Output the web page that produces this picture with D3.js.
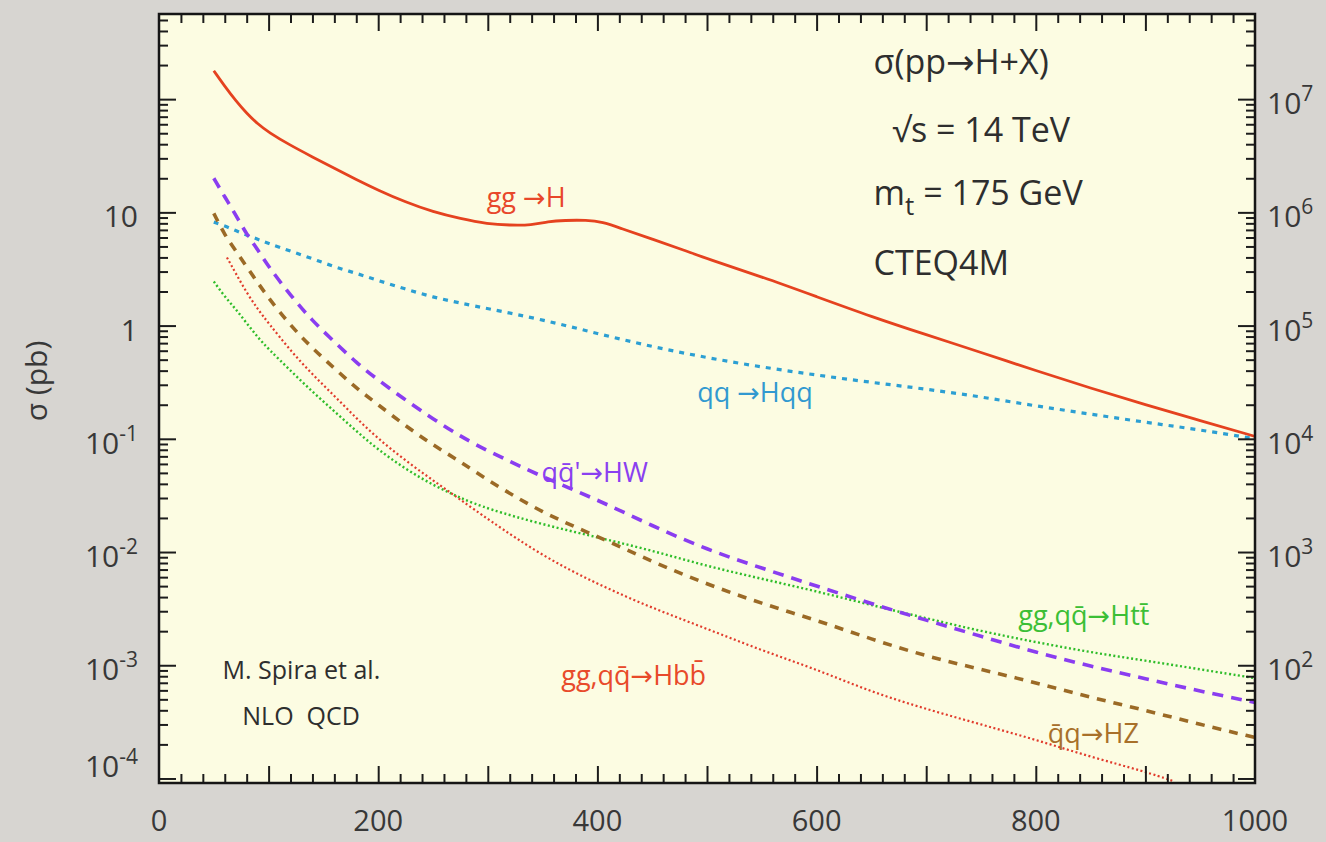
<!DOCTYPE html>
<html>
<head>
<meta charset="utf-8">
<script src="https://cdn.jsdelivr.net/npm/d3@7"></script>
<style>
  body { margin: 0; background: #d7d5d1; }
  svg { display: block; font-family: "Open Sans", "DejaVu Sans", sans-serif; }
</style>
</head>
<body>
<div id="chart"></div>
<script>
// Higgs production at the LHC, sqrt(s) = 14 TeV (M. Spira et al., NLO QCD)
// values: Higgs mass in GeV -> sigma in pb

const ggH_mass = [50, 60, 70, 80, 90, 100, 120, 140, 160, 180, 200, 225, 250, 275, 300, 320, 340, 355, 370, 390, 405, 420, 450, 480, 500, 550, 600, 650, 700, 750, 800, 850, 900, 950, 1000]
const ggH_xsec = [178, 130, 97, 75, 60.5, 51, 39, 30.9, 24.5, 19.5, 15.7, 12.3, 10.1, 8.8, 7.9, 7.7, 7.7, 8.3, 8.5, 8.55, 8.2, 7.3, 5.8, 4.6, 3.9, 2.7, 1.8, 1.2, 0.83, 0.58, 0.40, 0.28, 0.20, 0.145, 0.105]

const qqHqq_mass = [50, 60, 70, 80, 90, 100, 120, 140, 160, 180, 200, 225, 250, 275, 300, 350, 400, 450, 500, 550, 600, 650, 700, 750, 800, 850, 900, 950, 1000]
const qqHqq_xsec = [8.2, 7.6, 6.9, 6.3, 5.8, 5.3, 4.55, 3.9, 3.3, 2.9, 2.5, 2.1, 1.78, 1.58, 1.41, 1.13, 0.85, 0.65, 0.52, 0.43, 0.365, 0.315, 0.275, 0.235, 0.195, 0.165, 0.14, 0.12, 0.10]

const HW_mass = [50, 60, 70, 80, 90, 100, 120, 140, 160, 180, 200, 225, 250, 275, 300, 350, 400, 450, 500, 550, 600, 650, 700, 750, 800, 850, 900, 950, 1000]
const HW_xsec = [20, 13.7, 9.5, 6.4, 4.7, 3.3, 1.85, 1.1, 0.72, 0.47, 0.33, 0.22, 0.15, 0.105, 0.078, 0.046, 0.029, 0.017, 0.0105, 0.0072, 0.0050, 0.0035, 0.0025, 0.0018, 0.0013, 0.00098, 0.00076, 0.00059, 0.00047]

const HZ_mass = [50, 60, 70, 80, 90, 100, 120, 140, 160, 180, 200, 225, 250, 275, 300, 350, 400, 450, 500, 550, 600, 650, 700, 750, 800, 850, 900, 950, 1000]
const HZ_xsec = [9.8, 6.3, 4.6, 3.3, 2.4, 1.75, 1.0, 0.63, 0.42, 0.28, 0.2, 0.13, 0.088, 0.063, 0.043, 0.022, 0.0138, 0.0082, 0.0052, 0.0035, 0.0025, 0.0017, 0.0012, 0.00092, 0.00070, 0.00052, 0.00040, 0.00030, 0.00023]

const Htt_mass = [50, 60, 70, 80, 90, 100, 120, 140, 160, 180, 200, 225, 250, 275, 300, 350, 400, 450, 500, 550, 600, 650, 700, 750, 800, 850, 900, 950, 1000]
const Htt_xsec = [2.45, 1.8, 1.4, 1.05, 0.79, 0.62, 0.40, 0.26, 0.175, 0.117, 0.08, 0.054, 0.039, 0.030, 0.024, 0.0175, 0.0135, 0.0103, 0.0075, 0.0058, 0.0045, 0.0034, 0.0026, 0.0020, 0.0016, 0.0013, 0.0011, 0.00092, 0.00077]

const Hbb_mass = [62, 70, 80, 90, 100, 120, 140, 160, 180, 200, 225, 250, 275, 300, 350, 400, 450, 500, 550, 600, 650, 700, 750, 800, 850, 900, 925]
const Hbb_xsec = [4.0, 2.9, 1.95, 1.4, 1.05, 0.6, 0.37, 0.24, 0.152, 0.1, 0.064, 0.043, 0.029, 0.0195, 0.0092, 0.0052, 0.0032, 0.0021, 0.00135, 0.00092, 0.00058, 0.00041, 0.00030, 0.00022, 0.000155, 0.000115, 0.000095]

const xTicks = [0, 200, 400, 600, 800, 1000]
const leftDecades = [1, 0, -1, -2, -3, -4]   // labels 10, 1, 10^-1 ...
const rightDecades = [7, 6, 5, 4, 3, 2]      // events per year, sigma x 1e5 pb^-1

let W = 1326, H = 842
let m = {left: 159, top: 14, right: 71, bottom: 59}
let w = W - m.left - m.right
let h = H - m.top - m.bottom

let x = d3.scaleLinear().domain([0, 1000]).range([0, w])
let y = d3.scaleLog().domain([Math.pow(10, -4.04), Math.pow(10, 2.752)]).range([h, 0])

let svg = d3.select('#chart').append('svg')
    .attr('width', W)
    .attr('height', H)
svg.append('rect')
    .attr('width', W).attr('height', H)
    .attr('fill', '#d7d5d1')

let g = svg.append('g').attr('transform', `translate(${m.left},${m.top})`)
g.append('rect')
    .attr('width', w).attr('height', h)
    .attr('fill', '#fcfce2')

g.append('clipPath').attr('id', 'clip')
  .append('rect').attr('width', w).attr('height', h)

// curves
let line = d3.line()
    .x(d => x(d[0]))
    .y(d => y(d[1]))
    .curve(d3.curveBasis)

let curves = [
    {mass: ggH_mass, xsec: ggH_xsec, color: '#e5421f', width: 2.8, dash: null},
    {mass: qqHqq_mass, xsec: qqHqq_xsec, color: '#2c9fd3', width: 3.2, dash: '5,6'},
    {mass: Htt_mass, xsec: Htt_xsec, color: '#2fbd2a', width: 2.4, dash: '2,2.5'},
    {mass: Hbb_mass, xsec: Hbb_xsec, color: '#e13b2c', width: 2.2, dash: '2,2.5'},
    {mass: HZ_mass, xsec: HZ_xsec, color: '#9b6a26', width: 3.6, dash: '9,8'},
    {mass: HW_mass, xsec: HW_xsec, color: '#8a3df0', width: 3.6, dash: '11,8'}
]

g.append('g').attr('clip-path', 'url(#clip)')
  .selectAll('path')
  .data(curves)
  .enter().append('path')
    .attr('d', c => line(d3.zip(c.mass, c.xsec)))
    .attr('fill', 'none')
    .attr('stroke', c => c.color)
    .attr('stroke-width', c => c.width)
    .attr('stroke-dasharray', c => c.dash)

// ticks on all four sides, pointing inward
let logMajor = [], logMinor = []
for (let d = -5; d <= 3; d++) {
    for (let k = 1; k <= 9; k++) {
        let v = k * Math.pow(10, d)
        if (v < y.domain()[0] || v > y.domain()[1]) continue
        if (k == 1) logMajor.push(v)
        else logMinor.push(v)
    }
}
let linMajor = d3.range(100, 1000, 100)
let linMinor = d3.range(20, 1000, 20).filter(v => v % 100 != 0)

function tickAxis(axis, values, size, tx, ty) {
    let a = g.append('g')
        .attr('transform', `translate(${tx},${ty})`)
        .call(axis.tickValues(values).tickSize(-size).tickFormat(''))
    a.select('.domain').remove()
    a.selectAll('line').attr('stroke', '#1c1c1c').attr('stroke-width', 2)
}
tickAxis(d3.axisLeft(y), logMajor, 17, 0, 0)
tickAxis(d3.axisLeft(y), logMinor, 9, 0, 0)
tickAxis(d3.axisRight(y), logMajor, 17, w, 0)
tickAxis(d3.axisRight(y), logMinor, 9, w, 0)
tickAxis(d3.axisBottom(x), linMajor, 17, 0, h)
tickAxis(d3.axisBottom(x), linMinor, 9, 0, h)
tickAxis(d3.axisTop(x), linMajor, 17, 0, 0)
tickAxis(d3.axisTop(x), linMinor, 9, 0, 0)

g.append('rect')
    .attr('width', w).attr('height', h)
    .attr('fill', 'none')
    .attr('stroke', '#151515')
    .attr('stroke-width', 2.5)

// tick labels
let labColor = '#383838'
g.selectAll('.xlab')
  .data(xTicks)
  .enter().append('text')
    .attr('class', 'xlab')
    .attr('x', d => x(d))
    .attr('y', h + 48)
    .attr('text-anchor', 'middle')
    .attr('font-size', 29)
    .attr('fill', labColor)
    .text(d => d)

function powLabel(sel, d) {
    if (d == 1) { sel.text('10'); return }
    if (d == 0) { sel.text('1'); return }
    sel.append('tspan').text('10')
    sel.append('tspan').attr('dy', -13).attr('font-size', 21).text(d < 0 ? '-' + (-d) : d)
}

g.selectAll('.ylab')
  .data(leftDecades)
  .enter().append('text')
    .attr('class', 'ylab')
    .attr('x', -21)
    // the lowest label sits a little above its tick, as in the original
    .attr('y', d => y(Math.pow(10, d)) + 15 - (d == -4 ? 16 : 0))
    .attr('text-anchor', 'end')
    .attr('font-size', 30)
    .attr('fill', labColor)
    .each(function(d) { powLabel(d3.select(this), d) })

g.selectAll('.rlab')
  .data(rightDecades)
  .enter().append('text')
    .attr('class', 'rlab')
    .attr('x', w + 12)
    .attr('y', d => y(Math.pow(10, d - 5)) + 15)
    .attr('font-size', 30)
    .attr('fill', labColor)
    .each(function(d) { powLabel(d3.select(this), d) })

svg.append('text')
    .attr('transform', 'translate(47,381) rotate(-90)')
    .attr('text-anchor', 'middle')
    .attr('font-size', 30)
    .attr('fill', labColor)
    .text('σ (pb)')

// process labels, anchored in data coordinates
function note(mass, xsec, txt, color, size) {
    return g.append('text')
        .attr('x', x(mass))
        .attr('y', y(xsec))
        .attr('font-size', size)
        .attr('fill', color)
        .text(txt)
}
note(299, 11.1, 'gg →H', '#e8472a', 27)
note(491, 0.211, 'qq →Hqq', '#3199d0', 27)
note(349, 0.0413, 'qq\u0304\'→HW', '#8a40f0', 27)
note(784, 0.00226, 'gg,qq\u0304→Htt\u0304', '#3cbf36', 27)
note(367, 0.000667, 'gg,qq\u0304→Hbb\u0304', '#e84a2a', 27)
note(811, 0.000205, 'q\u0304q→HZ', '#a8702a', 27)

let ink = '#2e2e2e'
note(58, 0.000755, 'M. Spira et al.', ink, 25)
note(76, 0.000296, 'NLO\u00a0 QCD', ink, 25)

note(652, 167, 'σ(pp→H+X)', ink, 34)
note(669, 41.8, '√s = 14 TeV', ink, 34)
let mt = note(652, 11.6, 'm', ink, 34)
mt.append('tspan').attr('dy', 10).attr('font-size', 26).text('t')
mt.append('tspan').attr('dy', -10).text(' = 175 GeV')
note(652, 2.79, 'CTEQ4M', ink, 34)
</script>
</body>
</html>
